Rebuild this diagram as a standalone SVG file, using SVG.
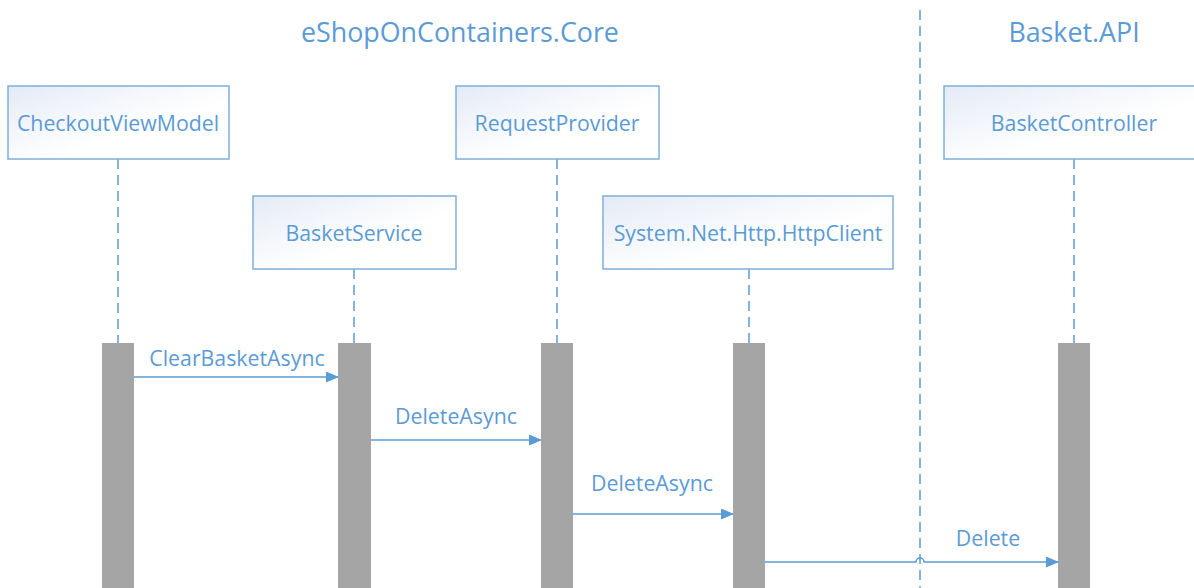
<svg xmlns="http://www.w3.org/2000/svg" width="1194" height="588" viewBox="0 0 1194 588">
<defs>
<linearGradient id="boxg" x1="0" y1="0" x2="1" y2="1">
<stop offset="0" stop-color="#E4EBF6"/>
<stop offset="0.6" stop-color="#FFFFFF"/>
</linearGradient>
<marker id="arr" markerWidth="13" markerHeight="11" refX="12" refY="5.5" orient="auto" markerUnits="userSpaceOnUse">
<path d="M0,0 L13,5.5 L0,11 Z" fill="#5B9BD5"/>
</marker>
</defs>
<style>
.box{fill:url(#boxg);stroke:#7FAEDC;stroke-width:1.5}
.lbl{font-family:"Open Sans","Noto Sans",sans-serif;font-size:21.3px;fill:#5B9BD5;text-anchor:middle}
.title{font-family:"Open Sans","Noto Sans",sans-serif;font-size:26.8px;fill:#5B9BD5;text-anchor:middle}
.life{stroke:#5B9BD5;stroke-width:1.5;stroke-dasharray:10,6;fill:none}
.act{fill:#A5A5A5}
.msg{stroke:#5B9BD5;stroke-width:1.5;fill:none;marker-end:url(#arr)}
</style>
<rect width="1194" height="588" fill="#FFFFFF"/>
<text class="title" x="460" y="42">eShopOnContainers.Core</text>
<text class="title" x="1074" y="42">Basket.API</text>
<line class="life" x1="920" y1="10" x2="920" y2="588"/>
<g id="checkoutviewmodel">
<line class="life" x1="118" y1="159" x2="118" y2="343"/>
<rect class="box" x="8" y="86" width="221" height="73"/>
<text class="lbl" x="118" y="131">CheckoutViewModel</text>
<rect class="act" x="102" y="343" width="32" height="245"/>
</g>
<g id="basketservice">
<line class="life" x1="354" y1="269" x2="354" y2="343"/>
<rect class="box" x="253" y="196" width="203" height="73"/>
<text class="lbl" x="354" y="241">BasketService</text>
<rect class="act" x="338" y="343" width="33" height="245"/>
</g>
<g id="requestprovider">
<line class="life" x1="557" y1="159" x2="557" y2="343"/>
<rect class="box" x="456" y="86" width="203" height="73"/>
<text class="lbl" x="557" y="131">RequestProvider</text>
<rect class="act" x="541" y="343" width="32" height="245"/>
</g>
<g id="httpclient">
<line class="life" x1="749" y1="269" x2="749" y2="343"/>
<rect class="box" x="603" y="196" width="290" height="73"/>
<text class="lbl" x="748" y="241">System.Net.Http.HttpClient</text>
<rect class="act" x="733" y="343" width="32" height="245"/>
</g>
<g id="basketcontroller">
<line class="life" x1="1074" y1="159" x2="1074" y2="343"/>
<rect class="box" x="944" y="86" width="260" height="73"/>
<text class="lbl" x="1074" y="131">BasketController</text>
<rect class="act" x="1058" y="343" width="32" height="245"/>
</g>
<g id="connectors">
<line class="msg" x1="134" y1="377" x2="338" y2="377"/>
<text class="lbl" x="237" y="366">ClearBasketAsync</text>
<line class="msg" x1="371" y1="440" x2="541" y2="440"/>
<text class="lbl" x="456" y="424">DeleteAsync</text>
<line class="msg" x1="573" y1="514" x2="733" y2="514"/>
<text class="lbl" x="652" y="491">DeleteAsync</text>
<path class="msg" d="M765,562 L916,562 A4,4 0 0 1 924,562 L1058,562"/>
<text class="lbl" x="988" y="546">Delete</text>
</g>
</svg>
